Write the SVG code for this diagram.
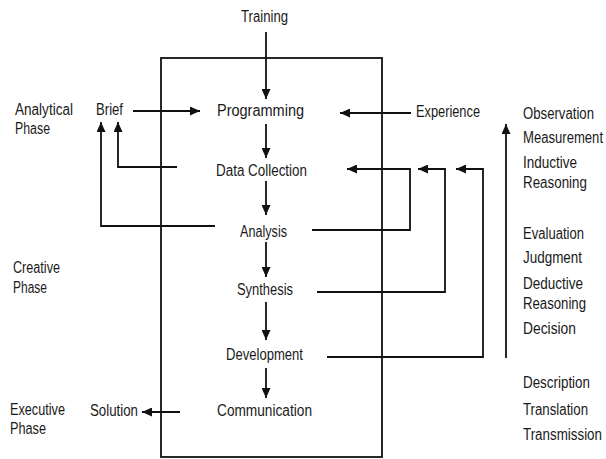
<svg xmlns="http://www.w3.org/2000/svg" width="606" height="459" viewBox="0 0 606 459">
<defs>
<marker id="ah" markerUnits="userSpaceOnUse" markerWidth="11" markerHeight="9" refX="10" refY="4.5" orient="auto">
<path d="M0,0 L10,4.5 L0,9 z" fill="#111"/>
</marker>
<style>
text{font-family:"Liberation Sans Narrow","Liberation Sans",Arial,sans-serif;font-size:16px;fill:#1a1a1a}
.ln{fill:none;stroke:#111;stroke-width:1.8}
.ar{fill:none;stroke:#111;stroke-width:1.8;marker-end:url(#ah)}
</style>
</defs>
<rect width="606" height="459" fill="#fff"/>
<rect class="ln" x="161" y="58" width="221" height="399"/>
<g id="connectors">
<line class="ar" x1="266" y1="32" x2="266" y2="99"/>
<line class="ar" x1="266" y1="124" x2="266" y2="158"/>
<line class="ar" x1="266" y1="181" x2="266" y2="215"/>
<line class="ar" x1="266" y1="242" x2="266" y2="277"/>
<line class="ar" x1="266" y1="302" x2="266" y2="340"/>
<line class="ar" x1="266" y1="368" x2="266" y2="398"/>
<line class="ar" x1="133" y1="111" x2="200" y2="111"/>
<line class="ar" x1="411" y1="113" x2="340" y2="113"/>
<polyline class="ar" points="177,167 118,167 118,122"/>
<polyline class="ar" points="215,226 101,226 101,122"/>
<polyline class="ar" points="312,230 410,230 410,169 347,169"/>
<polyline class="ar" points="317,292 445,292 445,169 418,169"/>
<polyline class="ar" points="327,357 483,357 483,169 456,169"/>
<line class="ar" x1="180" y1="412" x2="142" y2="412"/>
<line class="ar" x1="506" y1="358" x2="506" y2="124"/>
</g>
<g id="training"><text x="241" y="22" textLength="47" lengthAdjust="spacingAndGlyphs">Training</text></g>
<g id="programming"><text x="217" y="116" textLength="87" lengthAdjust="spacingAndGlyphs">Programming</text></g>
<g id="data-collection"><text x="216" y="176" textLength="91" lengthAdjust="spacingAndGlyphs">Data Collection</text></g>
<g id="analysis"><text x="240" y="237" textLength="47" lengthAdjust="spacingAndGlyphs">Analysis</text></g>
<g id="synthesis"><text x="237" y="295" textLength="56" lengthAdjust="spacingAndGlyphs">Synthesis</text></g>
<g id="development"><text x="226" y="360" textLength="77" lengthAdjust="spacingAndGlyphs">Development</text></g>
<g id="communication"><text x="217" y="416" textLength="95" lengthAdjust="spacingAndGlyphs">Communication</text></g>
<g id="brief"><text x="96" y="115" textLength="27" lengthAdjust="spacingAndGlyphs">Brief</text></g>
<g id="solution"><text x="90" y="416" textLength="48" lengthAdjust="spacingAndGlyphs">Solution</text></g>
<g id="experience"><text x="416" y="117" textLength="64" lengthAdjust="spacingAndGlyphs">Experience</text></g>
<g id="analytical-phase">
<text x="15" y="115" textLength="58" lengthAdjust="spacingAndGlyphs">Analytical</text>
<text x="15" y="134" textLength="35" lengthAdjust="spacingAndGlyphs">Phase</text>
</g>
<g id="creative-phase">
<text x="13" y="273" textLength="47" lengthAdjust="spacingAndGlyphs">Creative</text>
<text x="13" y="293" textLength="34" lengthAdjust="spacingAndGlyphs">Phase</text>
</g>
<g id="executive-phase">
<text x="10" y="415" textLength="55" lengthAdjust="spacingAndGlyphs">Executive</text>
<text x="10" y="434" textLength="36" lengthAdjust="spacingAndGlyphs">Phase</text>
</g>
<g transform="translate(523,0) scale(0.82,1)">
<g id="analytical-activities">
<text x="0" y="119" textLength="86.6" lengthAdjust="spacingAndGlyphs">Observation</text>
<text x="0" y="143" textLength="97.6" lengthAdjust="spacingAndGlyphs">Measurement</text>
<text x="0" y="168" textLength="65.9" lengthAdjust="spacingAndGlyphs">Inductive</text>
<text x="0" y="188" textLength="78" lengthAdjust="spacingAndGlyphs">Reasoning</text>
</g>
<g id="creative-activities">
<text x="0" y="239" textLength="74.4" lengthAdjust="spacingAndGlyphs">Evaluation</text>
<text x="0" y="263" textLength="72" lengthAdjust="spacingAndGlyphs">Judgment</text>
<text x="0" y="289" textLength="73.2" lengthAdjust="spacingAndGlyphs">Deductive</text>
<text x="0" y="309" textLength="76.8" lengthAdjust="spacingAndGlyphs">Reasoning</text>
<text x="0" y="334" textLength="64.6" lengthAdjust="spacingAndGlyphs">Decision</text>
</g>
<g id="executive-activities">
<text x="0" y="388" textLength="81.7" lengthAdjust="spacingAndGlyphs">Description</text>
<text x="0" y="415" textLength="79.3" lengthAdjust="spacingAndGlyphs">Translation</text>
<text x="0" y="440" textLength="96.3" lengthAdjust="spacingAndGlyphs">Transmission</text>
</g>
</g>
</svg>
